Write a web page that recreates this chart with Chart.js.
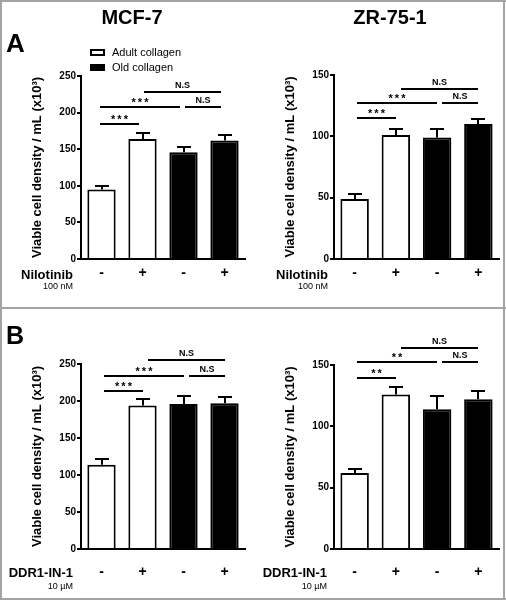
<!DOCTYPE html>
<html><head><meta charset="utf-8">
<script src="https://cdn.jsdelivr.net/npm/chart.js@4.4.0/dist/chart.umd.min.js"></script>
<style>
html,body{margin:0;padding:0;background:#fff;}
#fig{position:relative;width:506px;height:600px;overflow:hidden;font-family:"Liberation Sans",Arial,sans-serif;color:#000;background:#fff;}
canvas{position:absolute;}
.t{position:absolute;white-space:nowrap;line-height:1;}
.b{font-weight:bold;}
.frame{position:absolute;background:#a3a3a3;}
</style></head><body>
<div id="fig">
  <canvas id="cA1" width="253" height="300" style="left:0;top:0;width:253px;height:300px"></canvas>
  <canvas id="cA2" width="253" height="300" style="left:253px;top:0;width:253px;height:300px"></canvas>
  <canvas id="cB1" width="253" height="300" style="left:0;top:300px;width:253px;height:300px"></canvas>
  <canvas id="cB2" width="253" height="300" style="left:253px;top:300px;width:253px;height:300px"></canvas>

  <div class="frame" style="left:0;top:0;width:506px;height:2px"></div>
  <div class="frame" style="left:0;top:598px;width:506px;height:2px"></div>
  <div class="frame" style="left:0;top:0;width:2px;height:600px"></div>
  <div class="frame" style="left:503px;top:0;width:2px;height:600px"></div>
  <div class="frame" style="left:0;top:307px;width:506px;height:2px"></div>

  <div class="t b" style="left:132px;top:7px;font-size:20px;transform:translateX(-50%)">MCF-7</div>
  <div class="t b" style="left:390px;top:7px;font-size:20px;transform:translateX(-50%)">ZR-75-1</div>
  <div class="t b" style="left:6px;top:30px;font-size:26px">A</div>
  <div class="t b" style="left:6px;top:323px;font-size:25px">B</div>

  <div style="position:absolute;left:90px;top:49px;width:15px;height:7px;border:2px solid #000;box-sizing:border-box;background:#fff"></div>
  <div style="position:absolute;left:90px;top:64px;width:15px;height:7px;background:#000"></div>
  <div class="t" style="left:112px;top:47px;font-size:11px">Adult collagen</div>
  <div class="t" style="left:112px;top:62px;font-size:11px">Old collagen</div>

  <div class="t b" style="right:433px;top:268px;font-size:13px">Nilotinib</div>
  <div class="t" style="right:433px;top:282px;font-size:9px">100 nM</div>
  <div class="t b" style="right:178px;top:268px;font-size:13px">Nilotinib</div>
  <div class="t" style="right:178px;top:282px;font-size:9px">100 nM</div>
  <div class="t b" style="right:433px;top:566px;font-size:13px">DDR1-IN-1</div>
  <div class="t" style="right:433px;top:582px;font-size:9px">10 µM</div>
  <div class="t b" style="right:179px;top:566px;font-size:13px">DDR1-IN-1</div>
  <div class="t" style="right:179px;top:582px;font-size:9px">10 µM</div>
</div>
<script>
const categories = ['-', '+', '-', '+'];
const yTitle = 'Viable cell density / mL (x10³)';
const mcf7YTicks = [0, 50, 100, 150, 200, 250];
const zrYTicks = [0, 50, 100, 150];

// Panel A: Nilotinib, MCF-7
const mcf7NiloAdult = [95, 164, null, null];
const mcf7NiloAdultErr = [5, 8, null, null];
const mcf7NiloOld = [null, null, 146, 162];
const mcf7NiloOldErr = [null, null, 7, 7];
const mcf7NiloSig = [[0, 1, 185, '***'], [0, 2, 207, '***'], [2, 3, 207, 'N.S'], [1, 3, 228, 'N.S']];

// Panel A: Nilotinib, ZR-75-1
const zrNiloAdult = [49, 101, null, null];
const zrNiloAdultErr = [4, 5, null, null];
const zrNiloOld = [null, null, 99, 110];
const zrNiloOldErr = [null, null, 7, 4.5];
const zrNiloSig = [[0, 1, 114.6, '***'], [0, 2, 126.9, '***'], [2, 3, 126.9, 'N.S'], [1, 3, 138.8, 'N.S']];

// Panel B: DDR1-IN-1, MCF-7
const mcf7DdrAdult = [114, 194, null, null];
const mcf7DdrAdultErr = [7, 9, null, null];
const mcf7DdrOld = [null, null, 196, 197];
const mcf7DdrOldErr = [null, null, 11, 8];
const mcf7DdrSig = [[0, 1, 213, '***'], [0, 2, 233.2, '***'], [2, 3, 233.2, 'N.S'], [1, 3, 254.9, 'N.S']];

// Panel B: DDR1-IN-1, ZR-75-1
const zrDdrAdult = [62, 126, null, null];
const zrDdrAdultErr = [3, 6, null, null];
const zrDdrOld = [null, null, 114, 122];
const zrDdrOldErr = [null, null, 11, 6.5];
const zrDdrSig = [[0, 1, 139.2, '**'], [0, 2, 152.2, '**'], [2, 3, 152.2, 'N.S'], [1, 3, 164.1, 'N.S']];

const FONT = '"Liberation Sans", Arial, sans-serif';

const errorBarPlugin = {
  id: 'errorBars',
  afterDatasetsDraw(chart) {
    const ctx = chart.ctx, ys = chart.scales.y;
    ctx.save();
    ctx.strokeStyle = '#000';
    ctx.lineWidth = 2;
    chart.data.datasets.forEach((ds, i) => {
      const meta = chart.getDatasetMeta(i);
      meta.data.forEach((bar, j) => {
        const v = ds.data[j], e = ds.errors[j];
        if (v == null || e == null) return;
        const yt = Math.round(ys.getPixelForValue(v + e));
        const x = Math.round(bar.x);
        ctx.beginPath();
        ctx.moveTo(x, bar.y);
        ctx.lineTo(x, yt);
        ctx.moveTo(x - 7, yt);
        ctx.lineTo(x + 7, yt);
        ctx.stroke();
      });
    });
    ctx.restore();
  }
};

function makeSigPlugin(items, shift) {
  return {
    id: 'sig',
    afterDraw(chart) {
      const ctx = chart.ctx, xs = chart.scales.x, ys = chart.scales.y;
      ctx.save();
      ctx.strokeStyle = '#000';
      ctx.fillStyle = '#000';
      ctx.lineWidth = 2;
      items.forEach(([a, b, level, label]) => {
        const y = Math.round(ys.getPixelForValue(level));
        const x1 = Math.round(xs.getPixelForValue(a) + (a === 0 ? 1 : 4) + shift);
        const x2 = Math.round(xs.getPixelForValue(b) - 1 + shift);
        ctx.beginPath();
        ctx.moveTo(x1, y);
        ctx.lineTo(x2, y);
        ctx.stroke();
        ctx.textAlign = 'center';
        ctx.textBaseline = 'alphabetic';
        if (label[0] === '*') {
          ctx.font = 'bold 11px ' + FONT;
          ctx.letterSpacing = '2px';
          ctx.fillText(label, (x1 + x2) / 2 + 1, y - 1);
        } else {
          ctx.font = 'bold 9px ' + FONT;
          ctx.letterSpacing = '0px';
          ctx.fillText(label, (x1 + x2) / 2, y - 4);
        }
      });
      ctx.restore();
    }
  };
}

function makeChart(id, adult, adultErr, old, oldErr, yTicks, sig, lay) {
  return new Chart(document.getElementById(id), {
    type: 'bar',
    data: {
      labels: categories,
      datasets: [
        { label: 'Adult collagen', data: adult, errors: adultErr, backgroundColor: '#fff', borderColor: '#000',
          borderWidth: 2, skipNull: true, barPercentage: 0.69, categoryPercentage: 1 },
        { label: 'Old collagen', data: old, errors: oldErr, backgroundColor: '#000', borderColor: '#000',
          borderWidth: 2, skipNull: true, barPercentage: 0.69, categoryPercentage: 1 }
      ]
    },
    options: {
      responsive: false, animation: false, devicePixelRatio: 1,
      layout: { padding: { left: lay.l, right: lay.r, top: lay.t, bottom: lay.b } },
      plugins: { legend: { display: false }, tooltip: { enabled: false } },
      scales: {
        x: {
          grid: { display: false, drawTicks: false },
          border: { display: true, color: '#000', width: 2 },
          ticks: { color: '#000', font: { family: FONT, size: 14, weight: 'bold' }, padding: lay.xp, maxRotation: 0 },
          afterFit(s) { s.height = lay.xh; }
        },
        y: {
          min: yTicks[0], max: yTicks[yTicks.length - 1],
          ticks: { stepSize: yTicks[1] - yTicks[0], color: '#000', font: { family: FONT, size: 10, weight: 'bold' }, padding: 1 },
          grid: { drawOnChartArea: false, drawTicks: true, tickLength: 4, tickWidth: 2, tickColor: '#000', lineWidth: 2, color: '#000' },
          border: { display: true, color: '#000', width: 2 },
          title: { display: true, text: yTitle, color: '#000', font: { family: FONT, size: 13, weight: 'bold' }, padding: 0 },
          afterFit(s) { s.width = 51; }
        }
      }
    },
    plugins: [errorBarPlugin, makeSigPlugin(sig, lay.shift)]
  });
}

makeChart('cA1', mcf7NiloAdult, mcf7NiloAdultErr, mcf7NiloOld, mcf7NiloOldErr, mcf7YTicks, mcf7NiloSig,
  { l: 30, r: 8, t: 76, b: 11, xh: 30, xp: 6, shift: -2.5 });
makeChart('cA2', zrNiloAdult, zrNiloAdultErr, zrNiloOld, zrNiloOldErr, zrYTicks, zrNiloSig,
  { l: 30, r: 7, t: 75, b: 11, xh: 30, xp: 6, shift: 1 });
makeChart('cB1', mcf7DdrAdult, mcf7DdrAdultErr, mcf7DdrOld, mcf7DdrOldErr, mcf7YTicks, mcf7DdrSig,
  { l: 30, r: 8, t: 64, b: 11, xh: 40, xp: 15, shift: 1 });
makeChart('cB2', zrDdrAdult, zrDdrAdultErr, zrDdrOld, zrDdrOldErr, zrYTicks, zrDdrSig,
  { l: 30, r: 7, t: 65, b: 11, xh: 40, xp: 15, shift: 1 });
</script>
</body></html>
